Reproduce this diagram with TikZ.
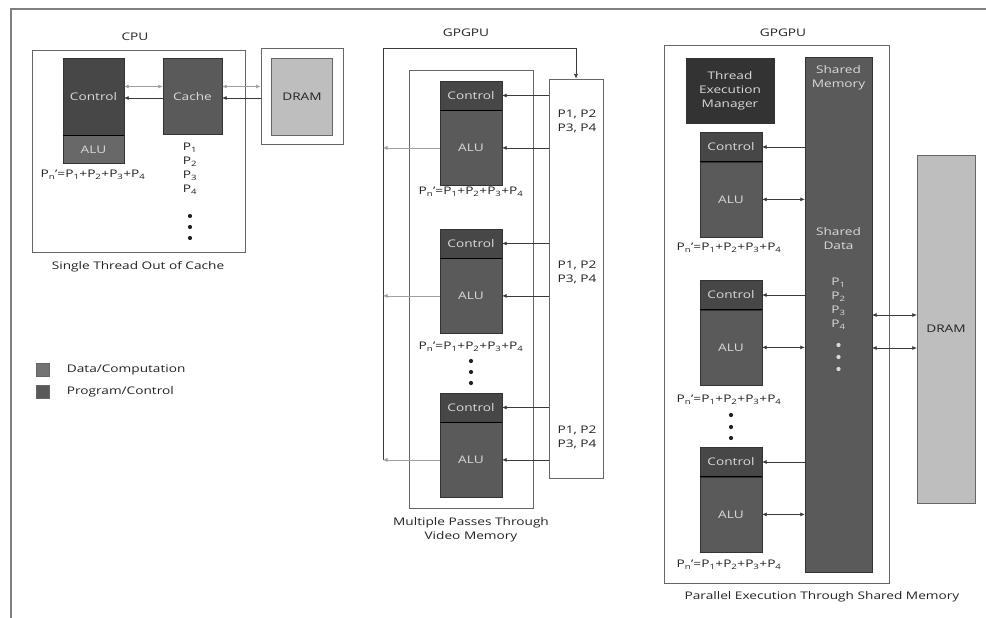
\documentclass[tikz,border=0pt]{standalone}
\usepackage{fontspec}
\setmainfont{Open Sans}[FakeStretch=1.3]
\usepackage{tikz}
\usetikzlibrary{arrows.meta, positioning, calc}

\definecolor{prog}{HTML}{474747}
\definecolor{data}{HTML}{5A5A5A}
\definecolor{cpualu}{HTML}{686868}
\definecolor{dramc}{HTML}{BEBEBE}
\definecolor{linec}{HTML}{3A3A3A}
\definecolor{lightc}{HTML}{A0A0A0}
\definecolor{inkw}{HTML}{DADADA}
\definecolor{inkd}{HTML}{222222}

\newcommand{\Psum}{P\textsubscript{n}'=P\textsubscript{1}+P\textsubscript{2}+P\textsubscript{3}+P\textsubscript{4}}
\newcommand{\Pfour}{P1, P2\\P3, P4}

\begin{document}
\begin{tikzpicture}[x=1pt, y=-1pt,
    every node/.style={font=\fontsize{10.5}{14}\selectfont, inner sep=0pt, text=inkd},
    frame/.style={draw=black!60, line width=0.8pt},
    unit_ctl/.style={draw=black!80, fill=prog, text=inkw, minimum width=62pt, minimum height=29pt},
    unit_alu/.style={draw=black!80, fill=data, text=inkw, minimum width=62pt, minimum height=75pt},
    mem/.style={draw=black!60, fill=dramc, text=inkd},
    sep/.style={draw=black, line width=1.2pt},
    arrow/.style={-{Latex[length=4.5pt, width=4pt]}, draw=linec, line width=0.6pt},
    arrow_dim/.style={-{Latex[length=4.5pt, width=4pt]}, draw=lightc, line width=0.6pt},
    arrow_both/.style={{Latex[length=4.5pt, width=4pt]}-{Latex[length=4.5pt, width=4pt]}, draw=linec, line width=0.6pt},
    legsq/.style={draw=black!60, minimum size=13pt},
]
\useasboundingbox (0,0) rectangle (986,618);

% page frame
\coordinate (frTL) at (11,9);
\draw[draw=black!50, line width=1.4pt] (11,618) -- (frTL) -- (986,9);

% CPU
\node (cputitle) at (135,37) {CPU};
\node[frame, minimum width=213pt, minimum height=202pt] (cpubox) at (138.5,151) {};
\node[unit_ctl, minimum width=61pt, minimum height=77pt] (ctlA) at (93.5,96.5) {Control};
\node[unit_alu, fill=cpualu, minimum width=61pt, minimum height=28pt, below=0pt of ctlA] (aluA) {ALU};
\draw[sep] (ctlA.south west) -- (ctlA.south east);
\node[unit_alu, minimum width=59pt, minimum height=76pt] (cache) at (192.5,96.5) {Cache};
\node[frame, fill=white, minimum width=82pt, minimum height=96pt] (dramAo) at (302,96.5) {};
\node[mem, minimum width=61pt, minimum height=77pt] (dramA) at (302,96.5) {DRAM};

\draw[arrow_dim, arrow_both, draw=lightc] ([yshift=10pt]ctlA.east) -- ([yshift=10pt]cache.west);
\draw[arrow] ([yshift=-1.5pt]cache.west) -- ([yshift=-1.5pt]ctlA.east);
\draw[arrow_dim, arrow_both, draw=lightc] ([yshift=10pt]cache.east) -- ([yshift=10pt]dramAo.west);
\draw[arrow] ([yshift=-1.5pt]dramAo.west) -- ([yshift=-1.5pt]cache.east);

\node (sumA) at (93,175) {\Psum};
\node[align=center] (plistA) at (190,169) {P\textsubscript{1}\\P\textsubscript{2}\\P\textsubscript{3}\\P\textsubscript{4}};
\foreach \y in {216,227,238} \fill[inkd] (190,\y) circle (2.1pt);
\node (capA) at (138,267) {Single Thread Out of Cache};

% legend
\node[legsq, fill=data!85] (legData) at (43,370) {};
\node[right=17pt of legData] (legDataTxt) {Data/Computation};
\node[legsq, fill=prog!90] (legProg) at (43,392) {};
\node[right=17pt of legProg] (legProgTxt) {Program/Control};

% GPGPU, multiple passes
\node (gtitleB) at (466,33) {GPGPU};
\node[frame, minimum width=124pt, minimum height=438pt] (vmem) at (471,289) {};
\node[frame, minimum width=54pt, minimum height=399pt] (pcol) at (576,278.5) {};
\coordinate (loopTL) at (383,48);
\coordinate (loopBL) at (383,460);
\draw[arrow] (loopBL) -- (loopTL) -| (pcol.north);

\foreach \i/\y in {1/95.5, 2/243.5, 3/407.5} {
    \node[unit_ctl] (ctlB\i) at (471,\y) {Control};
    \node[unit_alu, below=0pt of ctlB\i] (aluB\i) {ALU};
    \draw[sep] (ctlB\i.south west) -- (ctlB\i.south east);
    \draw[arrow] (pcol.west |- ctlB\i) -- (ctlB\i.east);
    \draw[arrow] (pcol.west |- aluB\i) -- (aluB\i.east);
    \draw[arrow_dim] (aluB\i.west) -- (aluB\i.west -| loopTL);
}
\node[align=center] (pB1) at (577,121) {\Pfour};
\node[align=center] (pB2) at (577,272) {\Pfour};
\node[align=center] (pB3) at (577,437) {\Pfour};
\node (sumB1) at (471,192) {\Psum};
\node (sumB2) at (471,347) {\Psum};
\foreach \y in {361,372,383} \fill[inkd] (471,\y) circle (2.1pt);
\node[align=center] (capB) at (471,530) {Multiple Passes Through\\Video Memory};

% GPGPU, shared memory
\node (gtitleC) at (783,33) {GPGPU};
\node[frame, minimum width=225pt, minimum height=538pt] (smbox) at (776.5,314) {};
\node[unit_ctl, fill=black!80, minimum width=88pt, minimum height=65pt, align=center] (tem) at (730,90.5) {Thread\\Execution\\Manager};
\node[unit_alu, minimum width=67pt, minimum height=515pt] (shm) at (838.5,314.5) {};
\node[align=center, text=inkw] (shmLbl) at (838.5,78) {Shared\\Memory};
\node[align=center, text=inkw] (shdLbl) at (838.5,239) {Shared\\Data};
\node[align=center, text=inkw] (plistC) at (838.5,304) {P\textsubscript{1}\\P\textsubscript{2}\\P\textsubscript{3}\\P\textsubscript{4}};
\foreach \y in {345,357,369} \fill[inkw] (838.5,\y) circle (2.1pt);

\foreach \i/\y in {1/147, 2/295, 3/462} {
    \node[unit_ctl] (ctlC\i) at (731,\y) {Control};
    \node[unit_alu, below=0pt of ctlC\i] (aluC\i) {ALU};
    \draw[sep] (ctlC\i.south west) -- (ctlC\i.south east);
    \draw[arrow] (shm.west |- ctlC\i) -- (ctlC\i.east);
    \draw[arrow_both] (aluC\i.east) -- (shm.west |- aluC\i);
}
\node (sumC1) at (729,248) {\Psum};
\node (sumC2) at (729,400) {\Psum};
\node (sumC3) at (729,565) {\Psum};
\foreach \y in {415,427,438} \fill[inkd] (731,\y) circle (2.1pt);

\node[mem, minimum width=58pt, minimum height=348pt] (dramC) at (946,329) {DRAM};
\coordinate (dlinkA) at (0,315);
\coordinate (dlinkB) at (0,348);
\draw[arrow_both] (shm.east |- dlinkA) -- (dramC.west |- dlinkA);
\draw[arrow_both] (shm.east |- dlinkB) -- (dramC.west |- dlinkB);
\node (capC) at (822,597) {Parallel Execution Through Shared Memory};

\end{tikzpicture}
\end{document}
